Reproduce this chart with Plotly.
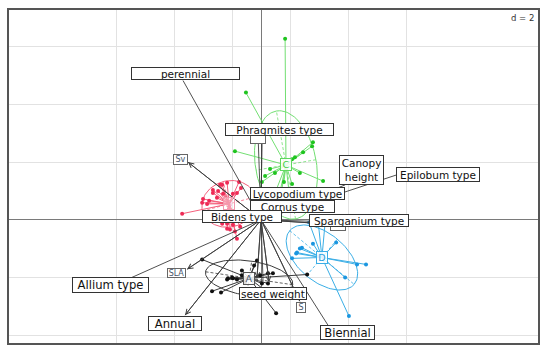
import numpy as np
import plotly.graph_objects as go

# ---------------- data (plot units) ----------------
groups = ["A", "B", "C", "D"]
cent_x = [-0.41, -1.10, 0.86, 2.10]
cent_y = [-2.03, 0.55, 1.90, -1.31]
ell_a = [1.52, 0.95, 1.90, 1.45]
ell_b = [0.60, 0.80, 1.05, 0.83]
ell_deg = [-8.5, 15.0, 100.0, -40.0]

A_x = [-2.03, -0.14, -0.24, -0.66, -1.00, -1.14, -0.97, -1.17, -0.83, -0.66, -1.69,
       -1.38, -0.03, 0.24, 0.41, 0.52, 0.03, 0.24, 1.59, 0.14, -0.55]
A_y = [-1.38, -1.41, -1.59, -1.76, -2.00, -2.03, -2.03, -2.07, -2.07, -1.93, -2.48,
       -2.52, -1.93, -1.86, -1.86, -3.24, -2.21, -2.21, -1.90, -2.45, -2.17]

B_x = [-2.72, -1.34, -1.17, -0.76, -0.69, -1.48, -1.66, -2.00, -2.03, -1.86, -1.79, -1.52,
       -1.31, -0.97, -0.83, -1.41, -1.66, -1.17, -1.07, -0.90, -0.83, -1.17, -0.97, -0.72, -1.34]
B_y = [0.21, 1.21, 1.28, 1.31, 1.10, 1.00, 0.93, 0.72, 0.59, 0.55, 0.66, 0.76,
       0.90, 0.90, 0.93, 1.21, 1.03, -0.31, -0.34, -0.41, -0.66, -0.14, -0.17, -0.24, -0.14]

C_x = [0.83, -0.52, -0.90, 1.79, 1.76, 1.45, 1.17, 1.07, 2.14, 0.31, 0.14, 0.03,
       0.79, 1.07, 0.48, 0.66, 0.31, 0.59, 1.00, 1.34]
C_y = [6.28, 4.41, 2.38, 2.69, 2.55, 2.34, 2.17, 2.10, 1.34, 1.76, 1.52, 1.31,
       1.31, 1.24, 1.62, 1.00, 0.48, 0.31, 0.66, 1.62]

D_x = [1.79, 2.59, 1.41, 1.34, 1.24, 1.21, 1.07, 3.03, 3.62, 3.31, 2.90, 1.97, 2.21, 1.66]
D_y = [-0.83, -0.79, -0.97, -1.00, -1.14, -1.17, -1.34, -3.34, -1.55, -1.55, -2.00,
       -0.07, -0.10, -0.10]

pts_x = [A_x, B_x, C_x, D_x]
pts_y = [A_y, B_y, C_y, D_y]

# arrows from the origin (trait / type vectors)
arrow_x = [-2.69, -2.52, -0.10, 0.03, 2.90, 4.66, 1.00, 0.90, -0.30, 1.66, 2.66,
           -4.45, -2.55, -2.62, 0.07, -0.14, 0.28, 1.34, 2.31]
arrow_y = [4.83, 2.00, 2.86, 2.86, 1.21, 1.55, 0.70, 0.30, 0.15, -0.05, -0.17,
           -2.00, -1.72, -3.31, -2.14, -2.03, -2.17, -2.83, -3.66]
arrow_head = [False, True, False, True, False, False, False, False, False, False, True,
              False, True, True, False, True, True, True, False]

# labels (the first two are small boxes hidden behind other labels)
label_text = [" ", " ", "Sv", "SLA", "S", "perennial", "Phragmites type", "Canopy<br>height",
              "Epilobum type", "Lycopodium type", "Cornus type", "Bidens type",
              "Sparganium type", "Allium type", "Annual", "seed weight", "Biennial"]
label_x = [-0.10, 2.66, -2.76, -2.91, 1.38, -2.62, 0.62, 3.47, 6.10, 1.26, 1.09, -0.66,
           3.38, -5.19, -2.97, 0.40, 2.97]
label_y = [2.79, -0.24, 2.10, -1.84, -3.03, 5.07, 3.12, 1.72, 1.57, 0.90, 0.47, 0.12,
           -0.02, -2.28, -3.60, -2.55, -3.91]

# ---------------- styles ----------------
line_col = ["#3a3a3a", "#f4607c", "#72df72", "#3aaee6"]
pt_col = ["#111111", "#ee2a55", "#1fc41f", "#1a96e0"]
glab_col = ["#4a5a70", "#f29ab0", "#3fcf3f", "#2aa0e0"]
glab_border = ["#555555", "#f29ab0", "#5fd85f", "#3aaee6"]

label_w = [16, 16, 15, 19, 10, 109, 109, 45, 84, 95, 85, 80, 100, 77, 54, 68, 55]
label_h = [10, 9, 11, 10, 11, 13, 13, 30, 15, 13, 13, 13, 13, 16, 15, 13, 15]
label_fs = [7, 7, 8, 8, 8, 10.5, 10.5, 10.5, 10.5, 10.5, 10.5, 10.5, 10.5, 11.6, 11.6, 10.5, 11.6]
small_lab = [True, True, True, True, True] + [False] * 12

fig = go.Figure()

t = np.linspace(0, 2 * np.pi, 121)
for g in range(4):
    th = np.deg2rad(ell_deg[g])
    ex = ell_a[g] * np.cos(t)
    ey = ell_b[g] * np.sin(t)
    X = cent_x[g] + ex * np.cos(th) - ey * np.sin(th)
    Y = cent_y[g] + ex * np.sin(th) + ey * np.cos(th)
    fig.add_trace(go.Scatter(x=X, y=Y, mode="lines", line=dict(color=line_col[g], width=1),
                             hoverinfo="skip", showlegend=False))
    ax_x = [cent_x[g] - ell_a[g] * np.cos(th), cent_x[g] + ell_a[g] * np.cos(th), None,
            cent_x[g] + ell_b[g] * np.sin(th), cent_x[g] - ell_b[g] * np.sin(th)]
    ax_y = [cent_y[g] - ell_a[g] * np.sin(th), cent_y[g] + ell_a[g] * np.sin(th), None,
            cent_y[g] - ell_b[g] * np.cos(th), cent_y[g] + ell_b[g] * np.cos(th)]
    fig.add_trace(go.Scatter(x=ax_x, y=ax_y, mode="lines",
                             line=dict(color=line_col[g], width=0.8, dash="3px,2px"),
                             hoverinfo="skip", showlegend=False))

for g in range(4):
    sx, sy = [], []
    for px, py in zip(pts_x[g], pts_y[g]):
        sx += [cent_x[g], px, None]
        sy += [cent_y[g], py, None]
    fig.add_trace(go.Scatter(x=sx, y=sy, mode="lines", line=dict(color=line_col[g], width=1),
                             hoverinfo="skip", showlegend=False))
    fig.add_trace(go.Scatter(x=pts_x[g], y=pts_y[g], mode="markers",
                             marker=dict(color=pt_col[g], size=4), showlegend=False))

lx, ly = [], []
for x, y in zip(arrow_x, arrow_y):
    lx += [0, x, None]
    ly += [0, y, None]
fig.add_trace(go.Scatter(x=lx, y=ly, mode="lines", line=dict(color="#3c3c3c", width=0.9),
                         hoverinfo="skip", showlegend=False))

annotations = []
for x, y, h in zip(arrow_x, arrow_y, arrow_head):
    if h:
        annotations.append(dict(x=x, y=y, ax=0, ay=0, xref="x", yref="y", axref="x", ayref="y",
                                text="", showarrow=True, arrowhead=5, arrowsize=1.1,
                                arrowwidth=0.9, arrowcolor="#3c3c3c", standoff=0))

for i, txt in enumerate(label_text):
    small = small_lab[i]
    annotations.append(dict(
        x=label_x[i], y=label_y[i], xref="x", yref="y", text=txt, showarrow=False,
        font=dict(family="DejaVu Sans", size=label_fs[i], color="#44546a" if small else "#111111"),
        bgcolor="white", bordercolor="#666666" if small else "#333333", borderwidth=1,
        borderpad=0, width=label_w[i] - 2, height=label_h[i] - 2,
        xanchor="center", yanchor="middle", align="center"))

for g in range(4):
    annotations.append(dict(
        x=cent_x[g], y=cent_y[g], xref="x", yref="y", text=groups[g], showarrow=False,
        font=dict(family="DejaVu Sans", size=9.5, color=glab_col[g]),
        bgcolor="rgba(255,255,255,0.85)" if g != 1 else "rgba(255,255,255,0.35)",
        bordercolor=glab_border[g], borderwidth=1, borderpad=0, width=10, height=11,
        xanchor="center", yanchor="middle"))

annotations.append(dict(x=1, y=1, xref="paper", yref="paper", xanchor="right", yanchor="top",
                        xshift=-2, yshift=-1, text="d = 2", showarrow=False, bgcolor="white",
                        font=dict(family="DejaVu Sans", size=8.5, color="#333333")))

fig.update_layout(
    width=550, height=352, margin=dict(l=9, r=12, t=8, b=9),
    paper_bgcolor="white", plot_bgcolor="white", showlegend=False,
    annotations=annotations,
    xaxis=dict(range=[-8.69, 9.55], tickvals=[-5, -3, -1, 1, 3, 5], showticklabels=False,
               ticks="", showgrid=True, gridcolor="#e2e2e2", gridwidth=1,
               zeroline=True, zerolinecolor="#7a7a7a", zerolinewidth=1,
               showline=True, mirror=True, linecolor="#555555", linewidth=1.5),
    yaxis=dict(range=[-4.276, 7.276], tickvals=[-4, -2, 2, 4, 6], showticklabels=False,
               ticks="", showgrid=True, gridcolor="#e2e2e2", gridwidth=1,
               zeroline=True, zerolinecolor="#7a7a7a", zerolinewidth=1,
               showline=True, mirror=True, linecolor="#555555", linewidth=1.5),
)

fig.write_html("out.html", config={"displayModeBar": False},
               post_script="document.body.style.margin='0';document.body.style.overflow='hidden';")
